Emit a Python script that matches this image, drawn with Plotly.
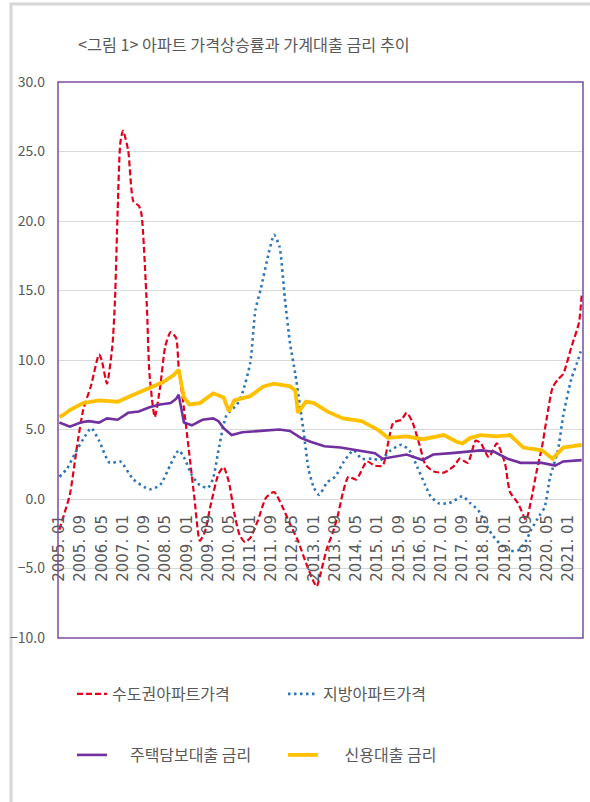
import plotly.graph_objects as go

# ---------------- data ----------------
seoul_months = ["2005-01","2005-03","2005-05","2005-08","2005-10","2006-01","2006-04","2006-05","2006-07","2006-09",
                "2006-10","2006-11","2006-12","2007-01","2007-03","2007-05","2007-07","2007-08","2007-10","2007-11",
                "2008-01","2008-03","2008-05","2008-07","2008-09","2008-10","2008-12","2009-02","2009-04","2009-06",
                "2009-08","2009-10","2010-01","2010-03","2010-05","2010-07","2010-09","2010-11","2011-01","2011-04",
                "2011-07","2011-10","2012-01","2012-04","2012-07","2012-10","2013-01","2013-02","2013-04","2013-06",
                "2013-08","2013-10","2013-12","2014-02","2014-05","2014-09","2014-12","2015-03","2015-05","2015-07",
                "2015-10","2015-12","2016-02","2016-05","2016-07","2016-10","2017-02","2017-06","2017-08","2017-11",
                "2018-02","2018-04","2018-07","2018-10","2019-01","2019-03","2019-06","2019-09","2019-11","2020-01",
                "2020-03","2020-05","2020-07","2020-09","2020-11","2021-02","2021-05","2021-06"]
seoul_values = [-2.2,-1.0,0.3,4.2,6.4,8.2,10.4,10.0,8.3,11.0,
                14.3,20.8,25.6,26.5,25.1,21.4,21.1,20.5,14.0,9.0,
                5.9,8.0,11.0,12.0,11.6,9.5,6.5,3.2,0.0,-3.0,
                -2.3,-0.5,1.8,2.3,1.2,-1.0,-2.6,-3.1,-2.8,-1.5,
                0.1,0.5,-0.5,-1.8,-3.0,-4.6,-6.0,-6.3,-5.0,-3.5,
                -2.5,-1.2,0.5,1.6,1.4,2.7,2.4,2.4,4.0,5.5,
                5.7,6.2,5.6,3.8,2.5,2.0,1.9,2.4,2.9,2.6,
                4.2,4.0,3.0,4.0,2.6,0.5,-0.3,-1.5,0.0,2.0,
                3.7,6.0,8.0,8.6,9.0,10.9,12.7,14.7]

local_months = ["2005-01","2005-04","2005-07","2005-10","2006-01","2006-04","2006-08","2006-12","2007-05","2007-11",
                "2008-03","2008-07","2008-10","2008-12","2009-03","2009-06","2009-09","2009-11","2010-01","2010-04",
                "2010-08","2010-10","2011-01","2011-03","2011-05","2011-08","2011-10","2011-12","2012-02","2012-04",
                "2012-06","2012-09","2012-11","2013-01","2013-03","2013-06","2013-09","2013-12","2014-04","2014-07",
                "2014-11","2015-02","2015-06","2015-10","2016-01","2016-04","2016-07","2016-09","2016-12","2017-04",
                "2017-06","2017-09","2017-12","2018-03","2018-05","2018-08","2018-11","2019-02","2019-06","2019-09",
                "2019-11","2020-02","2020-04","2020-06","2020-09","2020-11","2021-02","2021-05","2021-06"]
local_values = [1.6,2.2,3.3,4.3,5.1,4.2,2.6,2.7,1.4,0.7,
                1.0,2.5,3.5,3.0,1.7,1.0,0.8,1.5,3.5,6.0,
                6.8,7.6,9.8,13.6,15.1,17.7,19.0,18.2,14.5,11.2,
                9.0,5.0,2.1,0.8,0.3,1.2,1.6,2.6,3.5,2.9,
                2.9,2.8,3.5,3.9,3.5,2.3,1.0,0.2,-0.3,-0.3,
                -0.1,0.2,-0.3,-0.8,-1.5,-2.5,-3.2,-3.7,-3.7,-3.0,
                -2.2,-1.2,-0.6,1.5,3.5,6.0,8.6,10.2,10.9]

mortgage_months = ["2005-01","2005-05","2005-09","2005-12","2006-04","2006-07","2006-11","2007-03","2007-07","2007-11",
                   "2008-03","2008-07","2008-09","2008-10","2008-12","2009-03","2009-07","2009-11","2010-01","2010-03",
                   "2010-06","2010-10","2011-05","2011-12","2012-04","2012-08","2012-12","2013-05","2013-11","2014-05",
                   "2014-12","2015-03","2015-06","2015-12","2016-06","2016-10","2017-05","2017-11","2018-04","2018-09",
                   "2019-02","2019-07","2020-03","2020-08","2020-11","2021-06"]
mortgage_values = [5.5,5.2,5.5,5.6,5.5,5.8,5.7,6.2,6.3,6.6,
                   6.8,6.9,7.2,7.5,5.5,5.3,5.7,5.8,5.6,5.1,
                   4.6,4.8,4.9,5.0,4.9,4.4,4.1,3.8,3.7,3.5,
                   3.3,2.9,3.0,3.2,2.8,3.2,3.3,3.4,3.5,3.4,
                   2.9,2.6,2.6,2.4,2.7,2.8]

credit_months = ["2005-01","2005-03","2005-05","2005-10","2006-04","2006-11","2007-05","2007-11","2008-04","2008-08",
                 "2008-10","2008-12","2009-02","2009-06","2009-11","2010-03","2010-05","2010-07","2011-01","2011-06",
                 "2011-10","2012-04","2012-06","2012-07","2012-10","2013-01","2013-06","2013-12","2014-07","2015-01",
                 "2015-05","2015-12","2016-06","2017-02","2017-07","2017-09","2017-12","2018-04","2018-10","2019-03",
                 "2019-08","2020-03","2020-07","2020-11","2021-06"]
credit_values = [5.9,6.1,6.4,6.9,7.1,7.0,7.5,8.0,8.4,8.9,
                 9.3,7.3,6.8,6.9,7.6,7.3,6.3,7.1,7.4,8.1,
                 8.3,8.1,7.8,6.2,7.0,6.9,6.3,5.8,5.6,5.0,
                 4.4,4.5,4.3,4.6,4.1,4.0,4.4,4.6,4.5,4.6,
                 3.7,3.5,2.9,3.7,3.9]

tick_months = ["2005-01","2005-09","2006-05","2007-01","2007-09","2008-05","2009-01","2009-09","2010-05",
               "2011-01","2011-09","2012-05","2013-01","2013-09","2014-05","2015-01","2015-09","2016-05",
               "2017-01","2017-09","2018-05","2019-01","2019-09","2020-05","2021-01"]
tick_labels = [m.replace("-", ". ") for m in tick_months]

y_ticks = [-10, -5, 0, 5, 10, 15, 20, 25, 30]

title_text = "&lt;그림 1&gt; 아파트 가격상승률과 가계대출 금리 추이"
NB = "\u00a0"
names = ["수도권아파트가격", "지방아파트가격", NB * 5 + "주택담보대출 금리", NB * 6 + "신용대출 금리"]

# ---------------- layout constants ----------------
W, H = 590, 802
ML, MR, MT, MB = 58, 7, 82, 164
PW, PH = W - ML - MR, H - MT - MB
FONT = "Noto Sans CJK KR"
GREY = "#595959"

def px_x(p):
    return (p - ML) / PW

def px_y(p):
    return (H - MB - p) / PH

fig = go.Figure()
fig.add_trace(go.Scatter(x=seoul_months, y=seoul_values, name=names[0], mode="lines",
                         line=dict(color="#E2001A", width=2.2, dash="6px,3px", shape="spline", smoothing=0.6),
                         legend="legend"))
fig.add_trace(go.Scatter(x=local_months, y=local_values, name=names[1], mode="lines",
                         line=dict(color="#2E75B6", width=2.6, dash="2.5px,3.5px", shape="spline", smoothing=0.6),
                         legend="legend"))
fig.add_trace(go.Scatter(x=mortgage_months, y=mortgage_values, name=names[2], mode="lines",
                         line=dict(color="#7030A0", width=2.6),
                         legend="legend2"))
fig.add_trace(go.Scatter(x=credit_months, y=credit_values, name=names[3], mode="lines",
                         line=dict(color="#FFC000", width=3.8),
                         legend="legend2"))

legend_common = dict(orientation="h", xanchor="left", yanchor="middle",
                     font=dict(family=FONT, size=16, color=GREY),
                     entrywidth=166, entrywidthmode="pixels",
                     bgcolor="rgba(0,0,0,0)", itemclick=False, itemdoubleclick=False)

fig.update_layout(
    width=W, height=H,
    margin=dict(l=ML, r=MR, t=MT, b=MB, pad=0),
    paper_bgcolor="white", plot_bgcolor="white",
    font=dict(family=FONT, color=GREY),
    title=dict(text=title_text, x=78 / W, xanchor="left", y=1 - 45 / H, yanchor="middle",
               xref="container", yref="container",
               font=dict(family=FONT, size=16.2, color=GREY)),
    showlegend=True,
    legend=dict(x=px_x(72), y=px_y(694), **legend_common),
    legend2=dict(x=px_x(72), y=px_y(755), **legend_common),
    xaxis=dict(type="date", range=["2004-12-16", "2021-06-16"],
               tickmode="array", tickvals=tick_months, ticktext=tick_labels,
               tickangle=-90, ticks="", showgrid=False, zeroline=False, showline=False,
               anchor="free", position=0.25, ticklabelstandoff=12,
               tickfont=dict(family="DejaVu Sans", size=15, color=GREY)),
    yaxis=dict(range=[-10, 30], tickmode="array", tickvals=y_ticks, tickformat=".1f",
               showgrid=True, gridcolor="#d9d9d9", gridwidth=1, zeroline=False, showline=False,
               ticks="", ticklabelstandoff=12,
               tickfont=dict(family=FONT, size=14, color=GREY)),
    shapes=[
        # plot-area border
        dict(type="rect", xref="paper", yref="paper", x0=0, x1=1, y0=0, y1=1,
             line=dict(color="#7b4ea3", width=1.5), layer="above"),
        # outer frame of the chart object
        dict(type="rect", xref="paper", yref="paper",
             x0=px_x(11), x1=px_x(W + 20), y0=px_y(H + 20), y1=px_y(4),
             line=dict(color="#d6d6d6", width=3), layer="below"),
    ],
)

fig.write_html("out.html")
